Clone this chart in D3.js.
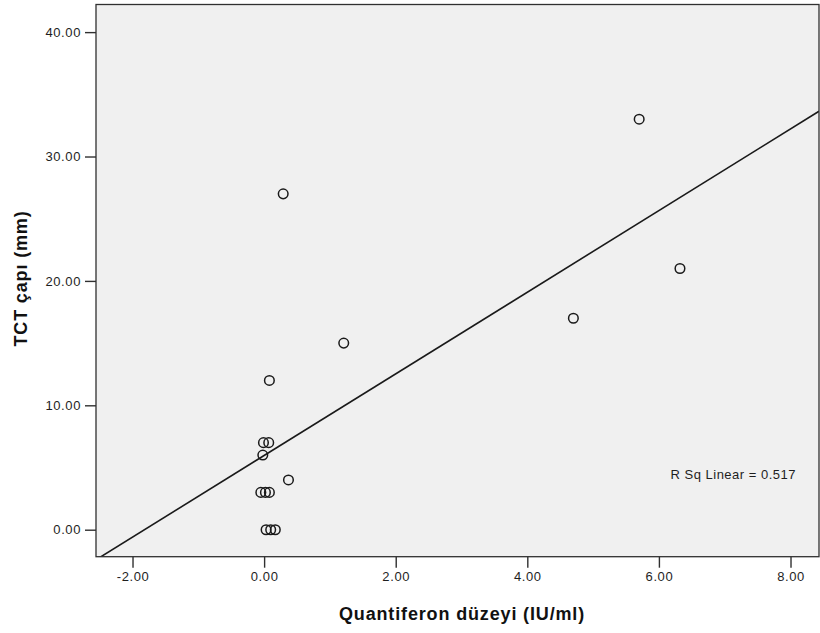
<!DOCTYPE html>
<html>
<head>
<meta charset="utf-8">
<script src="https://cdn.jsdelivr.net/npm/d3@7"></script>
<style>
  body { margin: 0; background: #fff; }
  svg { display: block; font-family: "Liberation Sans", Arial, sans-serif; }
</style>
</head>
<body>
<svg id="chart" width="820" height="633"></svg>
<script>
// Quantiferon level (IU/ml) vs TCT diameter (mm)
var quantiferon = [5.70, 6.32, 4.70, 0.29, 1.21, 0.08, -0.01, 0.07, -0.02, 0.37, -0.05, 0.02, 0.08, 0.03, 0.10, 0.17];
var tct         = [33,   21,   17,   27,   15,   12,   7,     7,    6,     4,    3,     3,    3,    0,    0,    0];

var xTicks = [-2, 0, 2, 4, 6, 8];
var yTicks = [0, 10, 20, 30, 40];
var xDomain = [-2.555, 8.433];
var yDomain = [-2.17, 42.22];

var xTitle = "Quantiferon düzeyi (IU/ml)";
var yTitle = "TCT çapı (mm)";
var rSqLabel = "R Sq Linear = 0.517";

var svg = d3.select("#chart");
var plotLeft = 96, plotRight = 819, plotTop = 4.5, plotBottom = 556.7;

var x = d3.scaleLinear().domain(xDomain).range([plotLeft, plotRight]);
var y = d3.scaleLinear().domain(yDomain).range([plotBottom, plotTop]);

var points = quantiferon.map(function(q, i){ return {x: q, y: tct[i]}; });

// plot background
svg.append("rect")
  .attr("x", plotLeft).attr("y", plotTop)
  .attr("width", plotRight - plotLeft).attr("height", plotBottom - plotTop)
  .attr("fill", "#f0f0f0");

svg.append("clipPath").attr("id", "clip")
  .append("rect")
  .attr("x", plotLeft).attr("y", plotTop)
  .attr("width", plotRight - plotLeft).attr("height", plotBottom - plotTop);

// least squares fit line
var mx = d3.mean(quantiferon), my = d3.mean(tct);
var sxy = d3.sum(points, function(p){ return (p.x - mx) * (p.y - my); });
var sxx = d3.sum(points, function(p){ return (p.x - mx) * (p.x - mx); });
var slope = sxy / sxx;
var intercept = my - slope * mx;

svg.append("line")
  .attr("clip-path", "url(#clip)")
  .attr("x1", x(xDomain[0])).attr("y1", y(intercept + slope * xDomain[0]))
  .attr("x2", x(xDomain[1])).attr("y2", y(intercept + slope * xDomain[1]))
  .attr("stroke", "#1a1a1a")
  .attr("stroke-width", 1.6);

// points
svg.append("g").selectAll("circle")
  .data(points)
  .enter()
  .append("circle")
  .attr("cx", function(d){ return x(d.x); })
  .attr("cy", function(d){ return y(d.y); })
  .attr("r", 4.8)
  .attr("fill", "none")
  .attr("stroke", "#1a1a1a")
  .attr("stroke-width", 1.5);

// frame
svg.append("rect")
  .attr("x", plotLeft).attr("y", plotTop)
  .attr("width", plotRight - plotLeft).attr("height", plotBottom - plotTop)
  .attr("fill", "none")
  .attr("stroke", "#303030")
  .attr("stroke-width", 1.3);

// axes (plain hyphen minus like the original)
var fmt = function(d){ return d3.format(".2f")(d).replace("\u2212", "-"); };
var xAxis = d3.axisBottom(x).tickValues(xTicks).tickSize(11).tickPadding(4).tickFormat(fmt);
var yAxis = d3.axisLeft(y).tickValues(yTicks).tickSize(11).tickPadding(4).tickFormat(fmt);

var gx = svg.append("g").attr("transform", "translate(0," + plotBottom + ")").call(xAxis);
var gy = svg.append("g").attr("transform", "translate(" + plotLeft + ",0)").call(yAxis);

[gx, gy].forEach(function(g){
  g.select(".domain").remove();
  g.selectAll(".tick line").attr("stroke", "#303030").attr("stroke-width", 1.4);
  g.selectAll(".tick text")
    .attr("fill", "#1e1e1e")
    .style("font-size", "13px")
    .style("letter-spacing", "0.6px");
});

// fit label
svg.append("text")
  .attr("x", 796).attr("y", 479)
  .attr("text-anchor", "end")
  .attr("fill", "#1e1e1e")
  .style("font-size", "13px")
  .style("letter-spacing", "0.5px")
  .text(rSqLabel);

// axis titles
svg.append("text")
  .attr("x", 462).attr("y", 619.5)
  .attr("text-anchor", "middle")
  .attr("fill", "#111")
  .style("font-size", "18px")
  .style("font-weight", "bold")
  .style("letter-spacing", "0.85px")
  .text(xTitle);

svg.append("text")
  .attr("transform", "translate(27,278.5) rotate(-90)")
  .attr("text-anchor", "middle")
  .attr("fill", "#111")
  .style("font-size", "18px")
  .style("font-weight", "bold")
  .style("letter-spacing", "0.85px")
  .text(yTitle);
</script>
</body>
</html>
